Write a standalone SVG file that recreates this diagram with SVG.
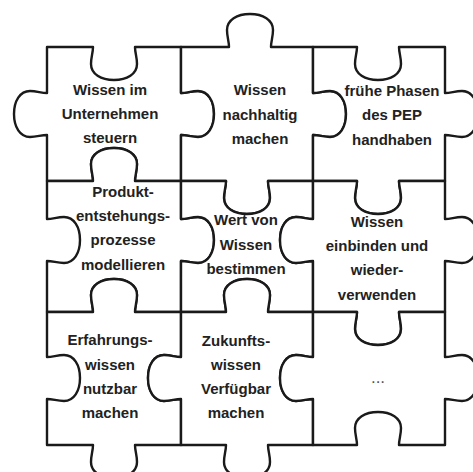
<svg xmlns="http://www.w3.org/2000/svg" width="473" height="472" viewBox="0 0 473 472">
<style>
.p{fill:#fff;stroke:#1a1a1a;stroke-width:2.4;stroke-linejoin:round}
.t{font-family:"Liberation Sans",Arial,sans-serif;font-size:15px;font-weight:bold;fill:#222;text-anchor:middle}
.d{font-family:"Liberation Sans",Arial,sans-serif;font-size:17px;fill:#555;text-anchor:middle}
</style>
<rect width="473" height="472" fill="#fff"/>
<g id="piece-1-1">
<path class="p" d="M47,47 L93,47 C93,53 91,57 91,64 C91,74 101,80 114,80 C127,80 137,74 137,64 C137,57 135,53 135,47 L181,47 L181,93 C187,93 191,91 198,91 C208,91 214,101 214,114 C214,127 208,137 198,137 C191,137 187,135 181,135 L181,181 L135,181 C135,175 137,171 137,164 C137,154 127,148 114,148 C101,148 91,154 91,164 C91,171 93,175 93,181 L47,181 L47,135 C41,135 37,137 30,137 C20,137 14,127 14,114 C14,101 20,91 30,91 C37,91 41,93 47,93 Z"/>
<text class="t" x="110" y="95">Wissen im</text>
<text class="t" x="110" y="119">Unternehmen</text>
<text class="t" x="110" y="143">steuern</text>
</g>
<g id="piece-1-2">
<path class="p" d="M181,47 L229,47 C229,41 227,37 227,30 C227,20 237,14 250,14 C263,14 273,20 273,30 C273,37 271,41 271,47 L313,47 L313,93 C319,93 323,91 330,91 C340,91 346,101 346,114 C346,127 340,137 330,137 C323,137 319,135 313,135 L313,181 L268,181 C268,187 270,191 270,198 C270,208 260,214 247,214 C234,214 224,208 224,198 C224,191 226,187 226,181 L181,181 L181,135 C187,135 191,137 198,137 C208,137 214,127 214,114 C214,101 208,91 198,91 C191,91 187,93 181,93 Z"/>
<text class="t" x="260" y="95">Wissen</text>
<text class="t" x="260" y="120">nachhaltig</text>
<text class="t" x="260" y="144">machen</text>
</g>
<g id="piece-1-3">
<path class="p" d="M313,47 L357,47 C357,53 355,57 355,64 C355,74 365,80 378,80 C391,80 401,74 401,64 C401,57 399,53 399,47 L445,47 L445,93 C451,93 455,91 462,91 C472,91 478,101 478,114 C478,127 472,137 462,137 C455,137 451,135 445,135 L445,181 L399,181 C399,187 401,191 401,198 C401,208 391,214 378,214 C365,214 355,208 355,198 C355,191 357,187 357,181 L313,181 L313,135 C319,135 323,137 330,137 C340,137 346,127 346,114 C346,101 340,91 330,91 C323,91 319,93 313,93 Z"/>
<text class="t" x="392" y="96">frühe Phasen</text>
<text class="t" x="392" y="120">des PEP</text>
<text class="t" x="392" y="145">handhaben</text>
</g>
<g id="piece-2-1">
<path class="p" d="M47,181 L93,181 C93,175 91,171 91,164 C91,154 101,148 114,148 C127,148 137,154 137,164 C137,171 135,175 135,181 L181,181 L181,219 C187,219 191,217 198,217 C208,217 214,227 214,240 C214,253 208,263 198,263 C191,263 187,261 181,261 L181,312 L135,312 C135,306 137,302 137,295 C137,285 127,279 114,279 C101,279 91,285 91,295 C91,302 93,306 93,312 L47,312 L47,261 C53,261 57,263 64,263 C74,263 80,253 80,240 C80,227 74,217 64,217 C57,217 53,219 47,219 Z"/>
<text class="t" x="123" y="197">Produkt-</text>
<text class="t" x="123" y="221">entstehungs-</text>
<text class="t" x="123" y="245">prozesse</text>
<text class="t" x="123" y="270">modellieren</text>
</g>
<g id="piece-2-2">
<path class="p" d="M181,181 L226,181 C226,187 224,191 224,198 C224,208 234,214 247,214 C260,214 270,208 270,198 C270,191 268,187 268,181 L313,181 L313,219 C307,219 303,217 296,217 C286,217 280,227 280,240 C280,253 286,263 296,263 C303,263 307,261 313,261 L313,312 L268,312 C268,306 270,302 270,295 C270,285 260,279 247,279 C234,279 224,285 224,295 C224,302 226,306 226,312 L181,312 L181,261 C187,261 191,263 198,263 C208,263 214,253 214,240 C214,227 208,217 198,217 C191,217 187,219 181,219 Z"/>
<text class="t" x="246" y="225">Wert von</text>
<text class="t" x="246" y="250">Wissen</text>
<text class="t" x="246" y="274">bestimmen</text>
</g>
<g id="piece-2-3">
<path class="p" d="M313,181 L357,181 C357,187 355,191 355,198 C355,208 365,214 378,214 C391,214 401,208 401,198 C401,191 399,187 399,181 L445,181 L445,219 C451,219 455,217 462,217 C472,217 478,227 478,240 C478,253 472,263 462,263 C455,263 451,261 445,261 L445,312 L399,312 C399,318 401,322 401,329 C401,339 391,345 378,345 C365,345 355,339 355,329 C355,322 357,318 357,312 L313,312 L313,261 C307,261 303,263 296,263 C286,263 280,253 280,240 C280,227 286,217 296,217 C303,217 307,219 313,219 Z"/>
<text class="t" x="377" y="227">Wissen</text>
<text class="t" x="377" y="251">einbinden und</text>
<text class="t" x="377" y="275">wieder-</text>
<text class="t" x="377" y="300">verwenden</text>
</g>
<g id="piece-3-1">
<path class="p" d="M47,312 L93,312 C93,306 91,302 91,295 C91,285 101,279 114,279 C127,279 137,285 137,295 C137,302 135,306 135,312 L181,312 L181,357 C175,357 171,355 164,355 C154,355 148,365 148,378 C148,391 154,401 164,401 C171,401 175,399 181,399 L181,445 L135,445 C135,451 137,455 137,462 C137,472 127,478 114,478 C101,478 91,472 91,462 C91,455 93,451 93,445 L47,445 L47,399 C53,399 57,401 64,401 C74,401 80,391 80,378 C80,365 74,355 64,355 C57,355 53,357 47,357 Z"/>
<text class="t" x="110" y="345">Erfahrungs-</text>
<text class="t" x="110" y="370">wissen</text>
<text class="t" x="110" y="394">nutzbar</text>
<text class="t" x="110" y="418">machen</text>
</g>
<g id="piece-3-2">
<path class="p" d="M181,312 L226,312 C226,306 224,302 224,295 C224,285 234,279 247,279 C260,279 270,285 270,295 C270,302 268,306 268,312 L313,312 L313,357 C307,357 303,355 296,355 C286,355 280,365 280,378 C280,391 286,401 296,401 C303,401 307,399 313,399 L313,445 L268,445 C268,451 270,455 270,462 C270,472 260,478 247,478 C234,478 224,472 224,462 C224,455 226,451 226,445 L181,445 L181,399 C175,399 171,401 164,401 C154,401 148,391 148,378 C148,365 154,355 164,355 C171,355 175,357 181,357 Z"/>
<text class="t" x="236" y="346">Zukunfts-</text>
<text class="t" x="236" y="370">wissen</text>
<text class="t" x="236" y="394">Verfügbar</text>
<text class="t" x="236" y="418">machen</text>
</g>
<g id="piece-3-3">
<path class="p" d="M313,312 L357,312 C357,318 355,322 355,329 C355,339 365,345 378,345 C391,345 401,339 401,329 C401,322 399,318 399,312 L445,312 L445,357 C451,357 455,355 462,355 C472,355 478,365 478,378 C478,391 472,401 462,401 C455,401 451,399 445,399 L445,445 L399,445 C399,439 401,435 401,428 C401,418 391,412 378,412 C365,412 355,418 355,428 C355,435 357,439 357,445 L313,445 L313,399 C307,399 303,401 296,401 C286,401 280,391 280,378 C280,365 286,355 296,355 C303,355 307,357 313,357 Z"/>
<text class="d" x="378" y="383">...</text>
</g>
<g id="connectors"/>
</svg>
